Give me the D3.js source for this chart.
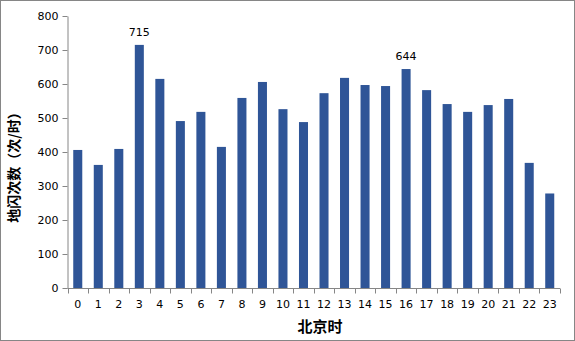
<!DOCTYPE html>
<html><head><meta charset="utf-8">
<script src="https://cdn.jsdelivr.net/npm/d3@7"></script>
<style>body{margin:0;background:#fff}svg{display:block}</style>
</head><body>
<script>
const hours = ["0","1","2","3","4","5","6","7","8","9","10","11","12","13","14","15","16","17","18","19","20","21","22","23"];
const counts = [406,362,409,715,615,491,518,415,559,606,526,488,573,618,597,594,644,582,541,518,538,556,368,278];
const yTicks = [0,100,200,300,400,500,600,700,800];
const labeledHours = ["3","16"];

const W = 575, H = 341;
const svg = d3.select("body").append("svg").attr("width", W).attr("height", H);
svg.append("rect").attr("x",0.5).attr("y",0.5).attr("width",W-1).attr("height",H-1)
  .attr("fill","#fff").attr("stroke","#868686");

const x = d3.scaleBand().domain(hours).range([67.5, 560]).paddingInner(0.56).paddingOuter(0.28);
const y = d3.scaleLinear().domain([0,800]).range([288,16]);
const font = "Verdana, 'DejaVu Sans', sans-serif";

// y axis
const ya = svg.append("g").attr("transform","translate(67.5,0)")
  .call(d3.axisLeft(y).tickValues(yTicks).tickSize(5).tickSizeOuter(0).tickPadding(4));
ya.select(".domain").attr("stroke","#868686");
ya.selectAll(".tick line").attr("stroke","#868686");
ya.selectAll("text").attr("font-family",font).attr("font-size",11).attr("fill","#000");

// bars
svg.append("g").selectAll("rect").data(counts).join("rect")
  .attr("x",(d,i)=>x(hours[i])).attr("width",x.bandwidth())
  .attr("y",d=>y(d)).attr("height",d=>y(0)-y(d)).attr("fill","#2F5597");

// x axis with ticks between categories
const xg = svg.append("g").attr("transform","translate(0,288.5)");
xg.append("line").attr("x1",67.5).attr("x2",560).attr("stroke","#868686");
const bounds = d3.range(hours.length+1).map(i=>67.5 + i*(560-67.5)/hours.length);
xg.selectAll("line.t").data(bounds).join("line").attr("class","t")
  .attr("x1",d=>Math.round(d)+0.5).attr("x2",d=>Math.round(d)+0.5).attr("y1",0).attr("y2",5).attr("stroke","#868686");
xg.selectAll("text").data(hours).join("text")
  .attr("x",d=>x(d)+x.bandwidth()/2).attr("y",19).attr("text-anchor","middle")
  .attr("font-family",font).attr("font-size",11).attr("fill","#000").text(d=>d);

// value labels
svg.append("g").selectAll("text").data(labeledHours).join("text")
  .attr("x",d=>x(d)+x.bandwidth()/2).attr("y",d=>y(counts[hours.indexOf(d)])-9)
  .attr("text-anchor","middle").attr("font-family",font).attr("font-size",11).attr("fill","#000")
  .text(d=>counts[hours.indexOf(d)]);

// axis titles
svg.append("text").attr("x",320).attr("y",332).attr("text-anchor","middle")
  .attr("font-family","'Noto Sans CJK SC', sans-serif").attr("font-weight","bold").attr("font-size",15)
  .text("北京时");
svg.append("text").attr("transform","translate(19,164) rotate(-90)").attr("text-anchor","middle")
  .attr("font-family","'Noto Sans CJK SC', sans-serif").attr("font-weight","bold").attr("font-size",14)
  .text("地闪次数（次/时）");
</script>
</body></html>
